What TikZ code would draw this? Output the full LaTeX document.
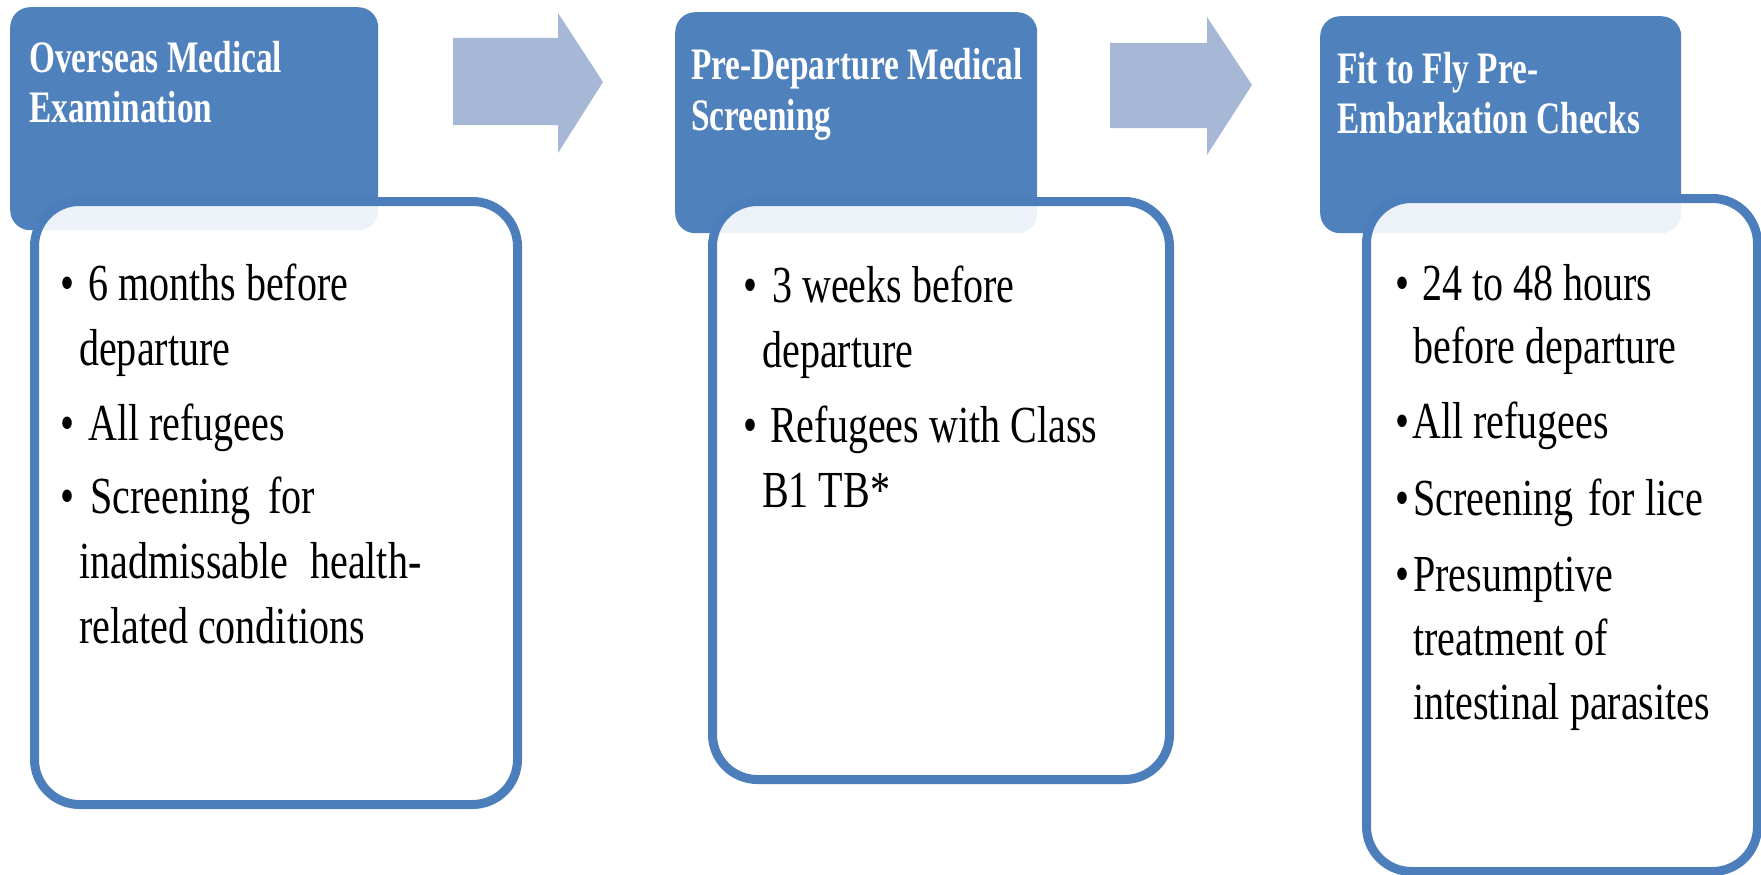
\documentclass[tikz,border=0pt]{standalone}
\usepackage{fontspec}
\setmainfont{Liberation Serif}[FakeStretch=0.77]
\newfontfamily\tabfont{Liberation Serif}[FakeStretch=0.74]

\definecolor{hdrblue}{RGB}{79,129,189}
\definecolor{edgeblue}{RGB}{76,126,187}
\definecolor{arrowgray}{RGB}{167,184,214}

% word spaces matching the condensed face
\newcommand{\tightsp}{\spaceskip=0.1925em plus 0.04em minus 0.02em\relax}
% bullet item: first line starts #1 right of the node, bullet sits #2 left of the text
\newcommand{\bitem}[3]{\tightsp\hspace*{#1}\llap{\makebox[#2][l]{\textbullet}}#3}

\tikzset{
  hdrbox/.style={shape=rectangle, anchor=north west, fill=hdrblue,
    rounded corners=20pt, inner sep=0pt},
  panelbox/.style={shape=rectangle, anchor=north west, draw=edgeblue,
    line width=9pt, fill=white, fill opacity=0.9, rounded corners=45pt,
    inner sep=0pt},
  hdrtext/.style={anchor=base west, inner sep=0pt, text width=400pt,
    align=left, text=white, font=\tabfont\fontsize{45}{51}\selectfont\bfseries},
  itemtext/.style={anchor=base west, inner sep=0pt, text width=420pt,
    align=left, text=black, font=\fontsize{52}{65}\selectfont},
  blockarrow/.style={fill=arrowgray}
}

\begin{document}
\begin{tikzpicture}[x=1pt,y=-1pt]
  \useasboundingbox (0,0) rectangle (1761,875);

  % title tabs
  \node[hdrbox, minimum width=368pt, minimum height=223pt] (hdr1) at (10,7) {};
  \node[hdrbox, minimum width=362pt, minimum height=221pt] (hdr2) at (675,12) {};
  \node[hdrbox, minimum width=361pt, minimum height=217pt] (hdr3) at (1320,16) {};

  % content panels
  \node[panelbox, minimum width=483pt, minimum height=603pt] (pan1) at (30,197) {};
  \node[panelbox, minimum width=457pt, minimum height=578pt] (pan2) at (708,197) {};
  \node[panelbox, minimum width=391pt, minimum height=673pt] (pan3) at (1362,194) {};

  % block arrows between the stages
  \fill[blockarrow] (453,38) -- (558,38) -- (558,13) -- (603,82) -- (558,153)
    -- (558,125) -- (453,125) -- cycle;
  \fill[blockarrow] (1110,43) -- (1207,43) -- (1207,17) -- (1252,85) -- (1207,155)
    -- (1207,128) -- (1110,128) -- cycle;

  % tab titles
  \node[hdrtext] (t1) at (29,72) {\tightsp Overseas Medical\newline Examination};
  \node[hdrtext] (t2) at (691,80) {\tightsp Pre-Departure Medical\newline Screening};
  \node[hdrtext] (t3) at (1337,83) {\tightsp Fit to Fly Pre-\newline Embarkation Checks};

  % stage 1
  \node[itemtext] (a1) at (79,300) {\bitem{9pt}{28pt}{6 months before\newline departure}};
  \node[itemtext] (a2) at (79,440) {\bitem{9pt}{28pt}{All refugees}};
  \node[itemtext] (a3) at (79,513) {\bitem{11pt}{30pt}{Screening\hspace{18pt}for\newline inadmissable\hspace{22pt}health-\newline related conditions}};

  % stage 2
  \node[itemtext] (b1) at (762,302) {\bitem{10pt}{29pt}{3 weeks before\newline departure}};
  \node[itemtext] (b2) at (762,442) {\bitem{8pt}{27pt}{Refugees with Class\newline B1 TB*}};

  % stage 3
  \node[itemtext, font=\fontsize{52}{63}\selectfont] (c1) at (1413,300)
    {\bitem{9pt}{27pt}{24 to 48 hours\newline before departure}};
  \node[itemtext] (c2) at (1412,438) {\bitem{0pt}{17pt}{All refugees}};
  \node[itemtext] (c3) at (1413,515) {\bitem{0pt}{18pt}{Screening\hspace{15pt}for lice}};
  \node[itemtext, font=\fontsize{52}{64}\selectfont] (c4) at (1413,591)
    {\bitem{0pt}{18pt}{Presumptive\newline treatment of\newline intestinal parasites}};
\end{tikzpicture}
\end{document}
